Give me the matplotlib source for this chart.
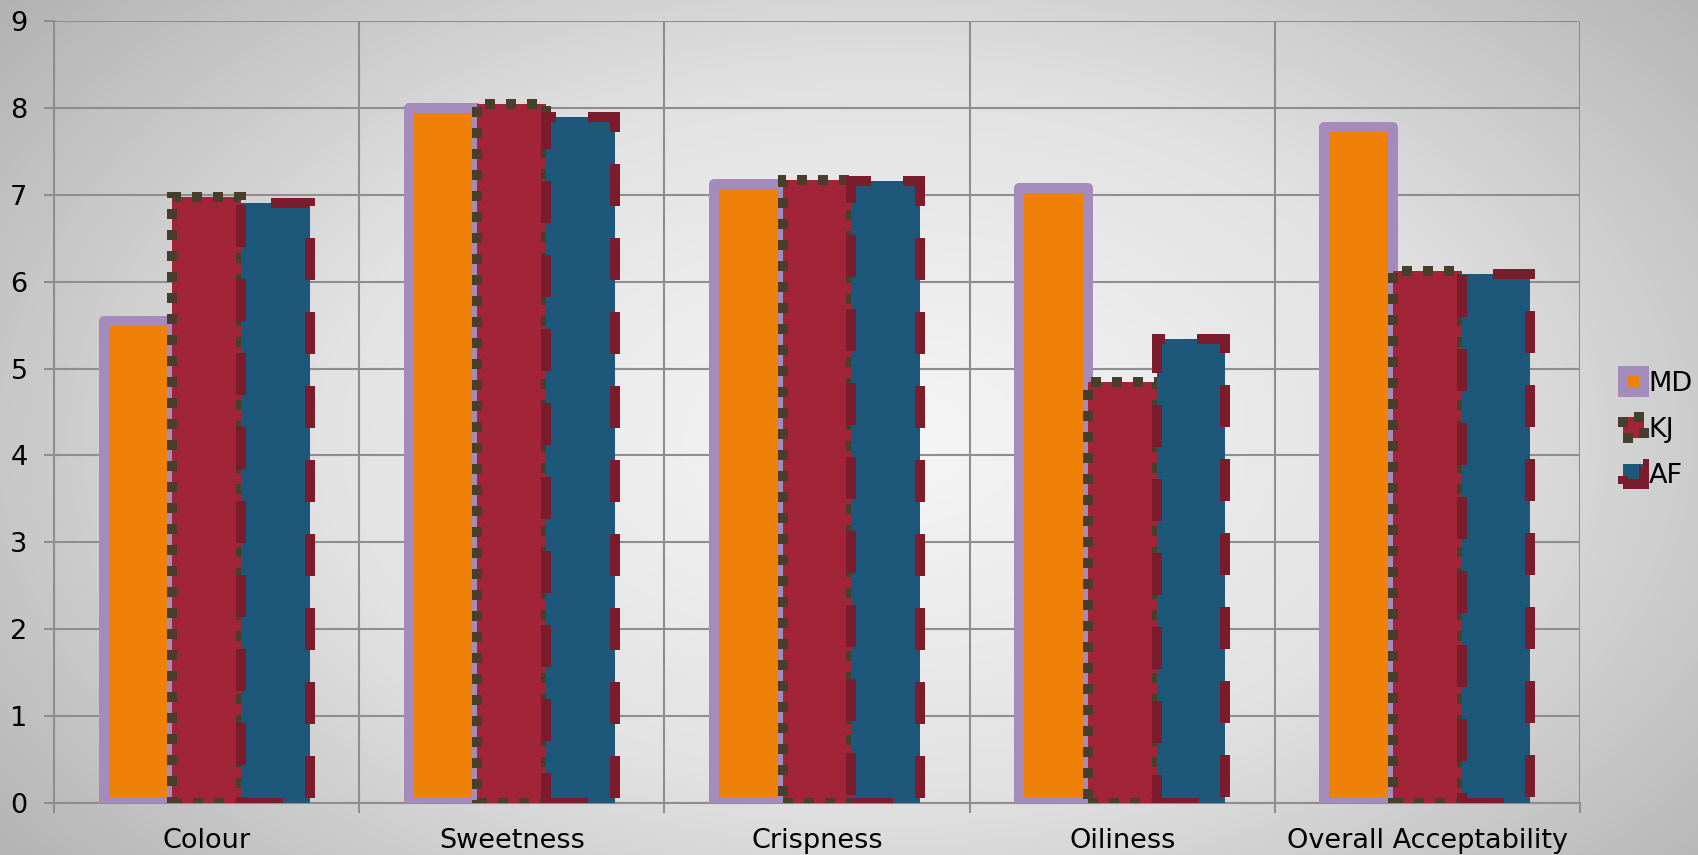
import numpy as np
import matplotlib
matplotlib.use("Agg")
import matplotlib.pyplot as plt
from matplotlib.colors import LinearSegmentedColormap

categories = ["Colour", "Sweetness", "Crispness", "Oiliness", "Overall Acceptability"]
md = [5.55, 8.0, 7.12, 7.08, 7.78]
kj = [6.97, 8.05, 7.17, 4.84, 6.12]
af = [6.9, 7.9, 7.16, 5.34, 6.09]
yticks = list(range(10))

W, H, DPI = 1699, 855, 100
fig = plt.figure(figsize=(W / DPI, H / DPI), dpi=DPI)

# radial grey backdrop, lighter toward the middle
bg = fig.add_axes([0, 0, 1, 1], zorder=-10)
yy, xx = np.mgrid[0:H, 0:W]
r = np.sqrt(((xx - 880) / 900.0) ** 2 + ((yy - 440) / 560.0) ** 2)
r = np.clip(r / r.max(), 0, 1)
cmap = LinearSegmentedColormap.from_list("bg", ["#f6f6f6", "#e2e2e2", "#b2b2b2"])
bg.imshow(r, cmap=cmap, aspect="auto", extent=[0, 1, 0, 1], vmin=0, vmax=1)
bg.axis("off")

ax = fig.add_axes([54 / W, 1 - 803 / H, (1580 - 54) / W, (803 - 21) / H])
ax.patch.set_alpha(0)

x = np.arange(len(categories))
w = 0.225
lw = 7.2
grid_c = "#8e8e8e"

ax.bar(x - w, md, w, color="#f08108", edgecolor="#a38bbb", linewidth=lw,
       joinstyle="round", label="MD", zorder=3)
ax.bar(x, kj, w, color="#a12537", edgecolor="#473f2c", linewidth=lw,
       linestyle=(0, (1.0, 1.1)), label="KJ", zorder=3)
ax.bar(x + w, af, w, color="#1d587b", edgecolor="#7a1c2b", linewidth=lw,
       linestyle=(0, (4.2, 3.2)), label="AF", zorder=3)

ax.set_xlim(-0.5, len(categories) - 0.5)
ax.set_ylim(0, 9)
ax.set_yticks(yticks)
ax.set_xticks(x)
ax.set_xticklabels(categories)
ax.set_xticks(np.arange(len(categories) + 1) - 0.5, minor=True)

ax.grid(axis="y", which="major", color=grid_c, lw=1.5, zorder=1)
ax.grid(axis="x", which="minor", color=grid_c, lw=1.5, zorder=1)
ax.tick_params(axis="x", which="major", length=0, labelsize=19.5, pad=18)
ax.tick_params(axis="x", which="minor", length=7, width=1.5, color=grid_c)
ax.tick_params(axis="y", length=7, width=1.5, color=grid_c, labelsize=19.5, pad=12)
for s in ["top", "right"]:
    ax.spines[s].set_visible(False)
for s in ["left", "bottom"]:
    ax.spines[s].set_color(grid_c)
    ax.spines[s].set_linewidth(1.5)

fig.legend(loc="center left", bbox_to_anchor=(1612 / W, 0.497), frameon=False,
           fontsize=19.5, handlelength=0.8, handleheight=0.8, handletextpad=0.15,
           labelspacing=0.75, borderaxespad=0)

fig.savefig("out.png", dpi=DPI)
